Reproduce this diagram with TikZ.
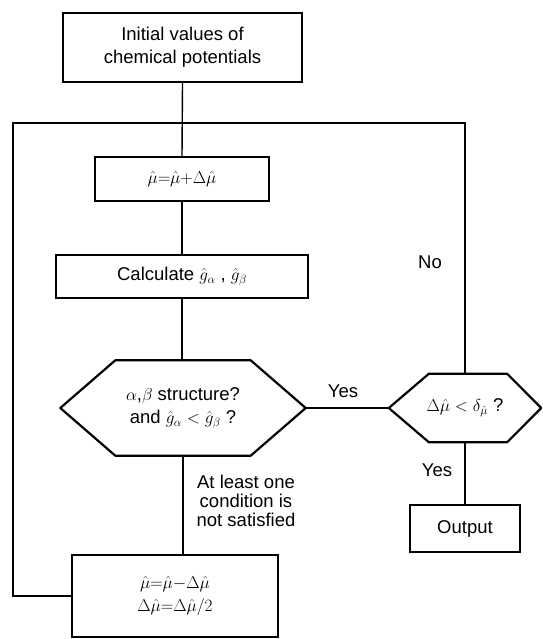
\documentclass[tikz,border=0pt]{standalone}
\usepackage{fontspec}
\setmainfont{Liberation Sans}
\usetikzlibrary{calc}
\begin{document}
\begin{tikzpicture}[x=1pt,y=-1pt,
  txt/.style={font=\fontsize{18.5}{23}\selectfont},
  box/.style={txt, draw, line width=2.2pt, inner sep=0pt, align=center},
  hexarea/.style={txt, inner sep=0pt, align=center},
  hexline/.style={line width=2.2pt, line join=round},
  conn/.style={line width=1.4pt},
  lbl/.style={txt, inner sep=0pt, align=center}]
\useasboundingbox (0,0) rectangle (542,639);

\node[box, minimum width=239, minimum height=69] (top) at (182.5,47.5)
  {Initial values of\\chemical potentials};
\node[box, minimum width=174, minimum height=44] (mu) at (182,179)
  {$\hat{\mu}{=}\hat{\mu}{+}\Delta\hat{\mu}$};
\node[box, minimum width=252, minimum height=43] (calc) at (182,276.5)
  {Calculate $\hat{g}_{\alpha}$ , $\hat{g}_{\beta}$};
\node[hexarea, minimum width=245, minimum height=95] (d1) at (183,408)
  {$\alpha$,$\beta$ structure?\\and $\hat{g}_{\alpha} < \hat{g}_{\beta}$ ?};
\node[hexarea, minimum width=152, minimum height=68] (d2) at (465,408)
  {$\Delta\hat{\mu} < \delta_{\hat{\mu}}$ ?};
\node[box, minimum width=110, minimum height=47] (out) at (465,528.5) {Output};
\node[box, minimum width=206, minimum height=82] (bot) at (175,596)
  {$\hat{\mu}{=}\hat{\mu}{-}\Delta\hat{\mu}$\\$\Delta\hat{\mu}{=}\Delta\hat{\mu}/2$};

\draw[hexline] (d1.west) -- ($(d1.north west)+(55,0)$) -- ($(d1.north east)+(-55,0)$)
  -- (d1.east) -- ($(d1.south east)+(-55,0)$) -- ($(d1.south west)+(55,0)$) -- cycle;
\draw[hexline] (d2.west) -- ($(d2.north west)+(40,0)$) -- ($(d2.north east)+(-34,0)$)
  -- (d2.east) -- ($(d2.south east)+(-34,0)$) -- ($(d2.south west)+(40,0)$) -- cycle;

\coordinate (lt) at (13,123);
\coordinate (rt) at (465,123);

\draw[conn] (top.south) -- (mu.north);
\draw[conn] (mu.south) -- (calc.north);
\draw[conn] (calc.south) -- (calc.south |- d1.north);
\draw[conn] (d1.south) -- (d1.south |- bot.north);
\draw[conn] (d1.east) -- (d2.west);
\draw[conn] (d2.south) -- (out.north);
\draw[conn] (bot.west) -| (lt) -- (rt) -- (d2.north);

\node[lbl] (no) at (430,262) {No};
\node[lbl] (yes1) at (343,391) {Yes};
\node[lbl] (yes2) at (437,470) {Yes};
\node[lbl, font=\fontsize{18.5}{19}\selectfont] (cond) at (246,501)
  {At least one\\condition is\\not satisfied};
\end{tikzpicture}
\end{document}
